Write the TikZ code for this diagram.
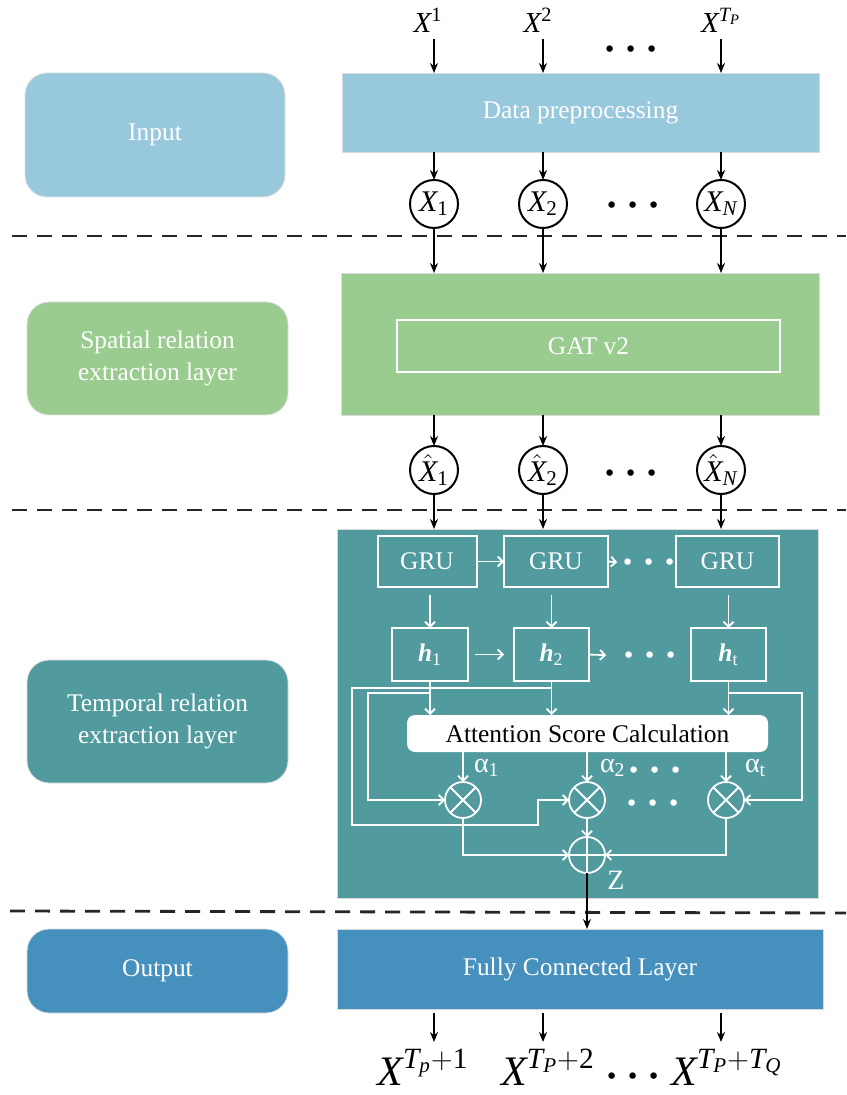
\documentclass[tikz,border=0pt]{standalone}
\usepackage{amsmath}
\usepackage{fontspec}
\setmainfont{Liberation Serif}
\usetikzlibrary{arrows.meta,calc}
\definecolor{cin}{HTML}{98C8DC}
\definecolor{csp}{HTML}{9ACB8F}
\definecolor{ctp}{HTML}{519B9F}
\definecolor{cout}{HTML}{4690BE}
\begin{document}
\begin{tikzpicture}[x=0.5pt,y=-0.5pt,
  every node/.style={font=\fontsize{12.7}{16}\selectfont, outer sep=0pt},
  lbox/.style={rectangle, rounded corners=11pt, text=white, align=center, draw=black!12, line width=0.4pt, inner sep=0pt},
  bblk/.style={rectangle, text=white, draw=black!15, line width=0.4pt, inner sep=0pt},
  barr/.style={-{Stealth[length=5pt,width=4pt]}, line width=0.9pt, black},
  warr/.style={-{Straight Barb[length=2.5pt,width=5pt]}, line width=0.9pt, white},
  wline/.style={line width=0.9pt, white},
  wbox/.style={rectangle, draw=white, line width=1pt, text=white, inner sep=0pt},
  xc/.style={circle, draw=black, line width=1pt, minimum size=24pt, inner sep=0pt, font=\fontsize{15}{18}\selectfont},
  opc/.style={circle, draw=white, line width=0.9pt, minimum size=18pt, inner sep=0pt},
  sepline/.style={line width=1.4pt, dash pattern=on 7.5pt off 5pt, black!85},
  dotsb/.style={anchor=base, inner sep=0pt, font=\fontsize{22}{24}\selectfont\boldmath},
  dotsw/.style={dotsb, text=white},
  toplab/.style={anchor=base, inner sep=1pt, font=\fontsize{14.5}{16}\selectfont},
  botlab/.style={anchor=base, inner sep=1pt, font=\fontsize{21}{26}\selectfont},
  alab/.style={anchor=west, inner sep=0pt, text=white, font=\fontsize{14}{16}\selectfont}
]
\fill[white] (0,0) rectangle (846,1095);
\useasboundingbox (0,0) rectangle (846,1095);

% columns and helper coordinates
\coordinate (c1) at (434,0);
\coordinate (c2) at (543,0);
\coordinate (c3) at (721,0);
\coordinate (y688) at (0,688);
\coordinate (y693) at (0,693);
\coordinate (y825) at (0,825);
\coordinate (iL) at (368,0);
\coordinate (oL) at (352,0);
\coordinate (sx) at (538,0);
\coordinate (oR) at (802,0);
\coordinate (e1) at (434,1042);
\coordinate (e2) at (543,1042);
\coordinate (e3) at (721,1042);

% separators
\draw[sepline] (12,236) -- (846,236);
\draw[sepline] (12,510) -- (846,510);
\draw[sepline] (10,911) -- (846,913);

% left labels
\node[lbox, fill=cin, minimum width=130pt, minimum height=62pt] (lin) at (155,135) {Input};
\node[lbox, fill=csp, minimum width=130.5pt, minimum height=56.5pt] (lsp) at (157.5,358.5) {Spatial relation\\extraction layer};
\node[lbox, fill=ctp, minimum width=130.5pt, minimum height=61.5pt] (ltp) at (157.5,721.5) {Temporal relation\\extraction layer};
\node[lbox, fill=cout, minimum width=130.5pt, minimum height=42pt] (lout) at (157.5,971) {Output};

% main blocks
\node[bblk, fill=cin, minimum width=238.5pt, minimum height=39.5pt] (dp) at (580.5,112.5) {Data preprocessing};
\node[bblk, fill=csp, minimum width=239pt, minimum height=71pt] (gat) at (580,344) {};
\node[wbox, minimum width=191.5pt, minimum height=26pt] (gatv) at (588.5,346) {GAT v2};
\node[bblk, fill=ctp, minimum width=240.5pt, minimum height=184.5pt] (tb) at (577.5,713.5) {};
\node[bblk, fill=cout, minimum width=243pt, minimum height=40pt] (fc) at (580,969) {Fully Connected Layer};

% top inputs
\node[toplab] (t1) at (428,33) {$\textit{X}^{\textup{1}}$};
\node[toplab] (t2) at (538,33) {$\textit{X}^{\textup{2}}$};
\node[toplab] (t3) at (721,33) {$\textit{X}^{\textit{T}_{\textit{P}}}$};
\node[dotsb] (d0) at (635,60) {$\cdots$};
\draw[barr] (t1.south -| c1) ++(0,4) -- (c1 |- dp.north);
\draw[barr] (t2.south -| c2) ++(0,4) -- (c2 |- dp.north);
\draw[barr] (t3.south -| c3) ++(0,4) -- (c3 |- dp.north);

% X_i circles
\node[xc] (x1) at (434,204) {$\textit{X}_{\textup{1}}$};
\node[xc] (x2) at (543,204) {$\textit{X}_{\textup{2}}$};
\node[xc] (x3) at (721,204) {$\textit{X}_{\textit{N}}$};
\node[dotsb] (d1) at (637,216) {$\cdots$};
\foreach \i in {1,2,3}{
  \draw[barr] (dp.south -| x\i) -- (x\i.north);
  \draw[barr] (x\i.south) -- (x\i |- gat.north);
}

% hat circles
\node[xc] (xh1) at (434,470) {$\hat{\textit{X}}_{\textup{1}}$};
\node[xc] (xh2) at (543,470) {$\hat{\textit{X}}_{\textup{2}}$};
\node[xc] (xh3) at (721,470) {$\hat{\textit{X}}_{\textit{N}}$};
\node[dotsb] (d2) at (635,483) {$\cdots$};
\foreach \i in {1,2,3}{
  \draw[barr] (gat.south -| xh\i) -- (xh\i.north);
  \draw[barr] (xh\i.south) -- (xh\i |- tb.north);
}

% GRU row
\node[wbox, minimum width=49.5pt, minimum height=25.5pt] (g1) at (427,561.5) {GRU};
\node[wbox, minimum width=52pt, minimum height=25.5pt] (g2) at (556,561.5) {GRU};
\node[wbox, minimum width=51.5pt, minimum height=25.5pt] (g3) at (727.5,561.5) {GRU};
\node[dotsw] (dg) at (653,572) {$\cdots$};
\draw[warr] (g1.east) -- (g2.west);
\draw[warr] (g2.east) -- ([xshift=-2pt]dg.west);

% h row
\node[wbox, minimum width=38pt, minimum height=26.5pt] (h1) at (430,654.5) {\textbf{\textit{h}}$_{\textup{1}}$};
\node[wbox, minimum width=37.5pt, minimum height=26.5pt] (h2) at (551.5,654.5) {\textbf{\textit{h}}$_{\textup{2}}$};
\node[wbox, minimum width=37.5pt, minimum height=26.5pt] (h3) at (728.5,654.5) {\textbf{\textit{h}}$_{\textup{t}}$};
\node[dotsw] (dh) at (654,665) {$\cdots$};
\foreach \i in {1,2,3}{
  \draw[warr] (g\i.south -| h\i.north) ++(0,8) -- (h\i.north);
}
\draw[warr] ([xshift=3.5pt]h1.east) -- ([xshift=-5pt]h2.west);
\draw[warr] (h2.east) -- ([xshift=-8pt]dh.west);

% attention
\node[rectangle, fill=white, rounded corners=4pt, minimum width=180.5pt, minimum height=18.5pt, inner sep=0pt, text=black] (att) at (587.5,733.5) {Attention Score Calculation};
\foreach \i in {1,2,3}{
  \draw[warr] (h\i.south) -- (h\i.south |- att.north);
}

% multiply / add nodes
\node[opc] (m1) at (463,800) {};
\node[opc] (m2) at (587,800) {};
\node[opc] (m3) at (726,800) {};
\node[opc] (p) at (587,855) {};
\foreach \n in {m1,m2,m3}{
  \draw[wline] (\n.north west) -- (\n.south east) (\n.north east) -- (\n.south west);
}
\draw[wline] (p.north) -- (p.south) (p.west) -- (p.east);

\node[alab] (a1) at (474,768) {α$_{\textup{1}}$};
\node[alab] (a2) at (600,768) {α$_{\textup{2}}$};
\node[alab] (a3) at (745,768) {α$_{\textup{t}}$};
\node[dotsw] (da) at (659,780) {$\cdots$};
\node[dotsw] (dm) at (657,813) {$\cdots$};
\node[inner sep=0pt, text=white, font=\fontsize{14}{16}\selectfont] (z) at (616,880) {Z};

\foreach \i in {1,2,3}{
  \draw[warr] (att.south -| m\i) -- (m\i.north);
}

% loops
\draw[warr] (h1.south |- y693) -| (m1.west -| iL) -- (m1.west);
\draw[warr] (h2.south |- y688) -| (oL |- y825) -| (sx |- m2.west) -- (m2.west);
\draw[warr] (h3.south |- y693) -| (oR |- m3.east) -- (m3.east);

\draw[warr] (m1.south) |- (p.west);
\draw[warr] (m3.south) |- (p.east);
\draw[warr] (m2.south) -- (p.north);

% output
\draw[barr] (p.south) -- (p.south |- fc.north);

\node[botlab] (o1) at (423,1085) {$\textit{X}^{\textit{T}_{\textit{p}}+\textup{1}}$};
\node[botlab] (o2) at (548,1085) {$\textit{X}^{\textit{T}_{\textit{P}}+\textup{2}}$};
\node[botlab] (o3) at (727,1085) {$\textit{X}^{\textit{T}_{\textit{P}}+\textit{T}_{\textit{Q}}}$};
\node[dotsb] (d3) at (637,1086) {$\cdots$};
\draw[barr] (fc.south -| e1) ++(0,4) -- (e1);
\draw[barr] (fc.south -| e2) ++(0,4) -- (e2);
\draw[barr] (fc.south -| e3) ++(0,4) -- (e3);
\end{tikzpicture}
\end{document}
